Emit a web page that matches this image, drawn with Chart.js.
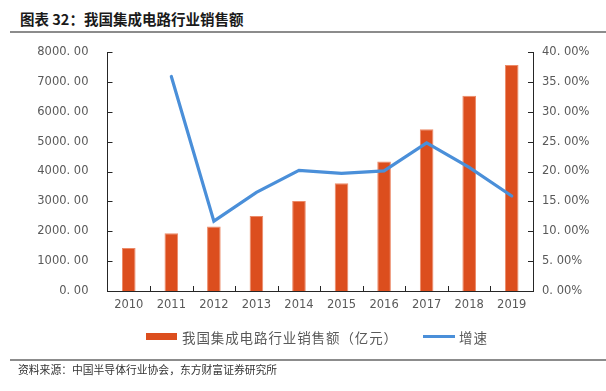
<!DOCTYPE html>
<html><head><meta charset="utf-8">
<script src="https://cdn.jsdelivr.net/npm/chart.js@4"></script>
<style>
html,body{margin:0;padding:0;background:#fff;width:606px;height:391px;overflow:hidden;position:relative;}
#c{position:absolute;left:0;top:0;}
.t{position:absolute;white-space:nowrap;font-family:"Noto Sans CJK SC",sans-serif;}
.rule{position:absolute;left:10px;right:0;height:2px;background:#8c8c8c;}
</style></head>
<body>
<div class="t" style="left:20px;top:9px;font-size:14.5px;font-weight:bold;color:#1a1a1a;line-height:20px;">图表 32：我国集成电路行业销售额</div>
<div class="rule" style="top:31px;"></div>
<canvas id="c" width="606" height="391"></canvas>
<div style="position:absolute;left:146px;top:333px;width:31px;height:7px;background:#DC4E1E;"></div>
<div class="t" style="left:182px;top:327px;font-size:13.5px;letter-spacing:0.9px;color:#595959;line-height:20px;">我国集成电路行业销售额（亿元）</div>
<div style="position:absolute;left:423px;top:335px;width:32px;height:3px;background:#4A8FD9;"></div>
<div class="t" style="left:459px;top:327px;font-size:13.5px;letter-spacing:0.9px;color:#595959;line-height:20px;">增速</div>
<div class="rule" style="top:359px;"></div>
<div class="t" style="left:18px;top:361px;font-size:10.8px;color:#333;line-height:16px;">资料来源：中国半导体行业协会，东方财富证券研究所</div>
<script>
const categories = ['2010','2011','2012','2013','2014','2015','2016','2017','2018','2019'];
const salesValues = [1440, 1933, 2158, 2508, 3015, 3609, 4335, 5411, 6532, 7562];
const growthValues = [null, 35.9, 11.7, 16.5, 20.2, 19.7, 20.1, 24.8, 20.7, 15.9];
const salesLabel = '我国集成电路行业销售额（亿元）';
const growthLabel = '增速';

const tickFont = {family: '"DejaVu Sans", sans-serif', size: 11.5};
const tickColor = '#595959';
const axisColor = '#262626';

const innerTicks = {
  id: 'innerTicks',
  afterDraw(chart) {
    const ctx = chart.ctx;
    const {left, right, bottom} = chart.chartArea;
    const yl = chart.scales.y, yr = chart.scales.y2, x = chart.scales.x;
    ctx.save();
    ctx.strokeStyle = axisColor;
    ctx.lineWidth = 1;
    ctx.beginPath();
    yl.ticks.forEach((t, i) => {
      const py = Math.round(yl.getPixelForTick(i)) + 0.5;
      ctx.moveTo(left, py); ctx.lineTo(left + 5, py);
    });
    yr.ticks.forEach((t, i) => {
      const py = Math.round(yr.getPixelForTick(i)) + 0.5;
      ctx.moveTo(right, py); ctx.lineTo(right - 5, py);
    });
    for (let i = 1; i < categories.length; i++) {
      const px = Math.round((x.getPixelForValue(i - 1) + x.getPixelForValue(i)) / 2) + 0.5;
      ctx.moveTo(px, bottom); ctx.lineTo(px, bottom - 5);
    }
    ctx.stroke();
    ctx.restore();
  }
};

new Chart(document.getElementById('c'), {
  data: {
    labels: categories,
    datasets: [
      {type: 'line', label: growthLabel, data: growthValues, yAxisID: 'y2', order: 0,
       borderColor: '#4A8FD9', backgroundColor: '#4A8FD9', borderWidth: 3.2,
       pointRadius: 0, pointHoverRadius: 0, tension: 0, borderCapStyle: 'round', borderJoinStyle: 'miter'},
      {type: 'bar', label: salesLabel, data: salesValues, yAxisID: 'y', order: 1,
       backgroundColor: '#DC4E1E', borderColor: '#EC8A68', borderWidth: {left: 1, right: 1, top: 1, bottom: 0},
       barPercentage: 0.32, categoryPercentage: 1.0}
    ]
  },
  options: {
    responsive: false,
    animation: false,
    layout: {padding: {top: 52, left: 0, right: 0, bottom: 0}},
    plugins: {legend: {display: false}, tooltip: {enabled: false}},
    scales: {
      x: {
        offset: true,
        grid: {display: false, drawTicks: false},
        border: {display: true, color: axisColor, width: 1},
        ticks: {font: tickFont, color: tickColor, padding: 7, maxRotation: 0},
        afterFit(s) { s.height = 100; }
      },
      y: {
        position: 'left', min: 0, max: 8000,
        grid: {display: false, drawTicks: false},
        border: {display: true, color: axisColor, width: 1},
        ticks: {stepSize: 1000, font: tickFont, color: tickColor, padding: 19,
                callback: v => v.toFixed(2).replace('.', '. ')},
        afterFit(s) { s.width = 107.5; }
      },
      y2: {
        position: 'right', min: 0, max: 40,
        grid: {display: false, drawTicks: false},
        border: {display: true, color: axisColor, width: 1},
        ticks: {stepSize: 5, font: tickFont, color: tickColor, padding: 9,
                callback: v => v.toFixed(2).replace('.', '. ') + '%'},
        afterFit(s) { s.width = 73; }
      }
    }
  },
  plugins: [innerTicks]
});
</script>
</body></html>
